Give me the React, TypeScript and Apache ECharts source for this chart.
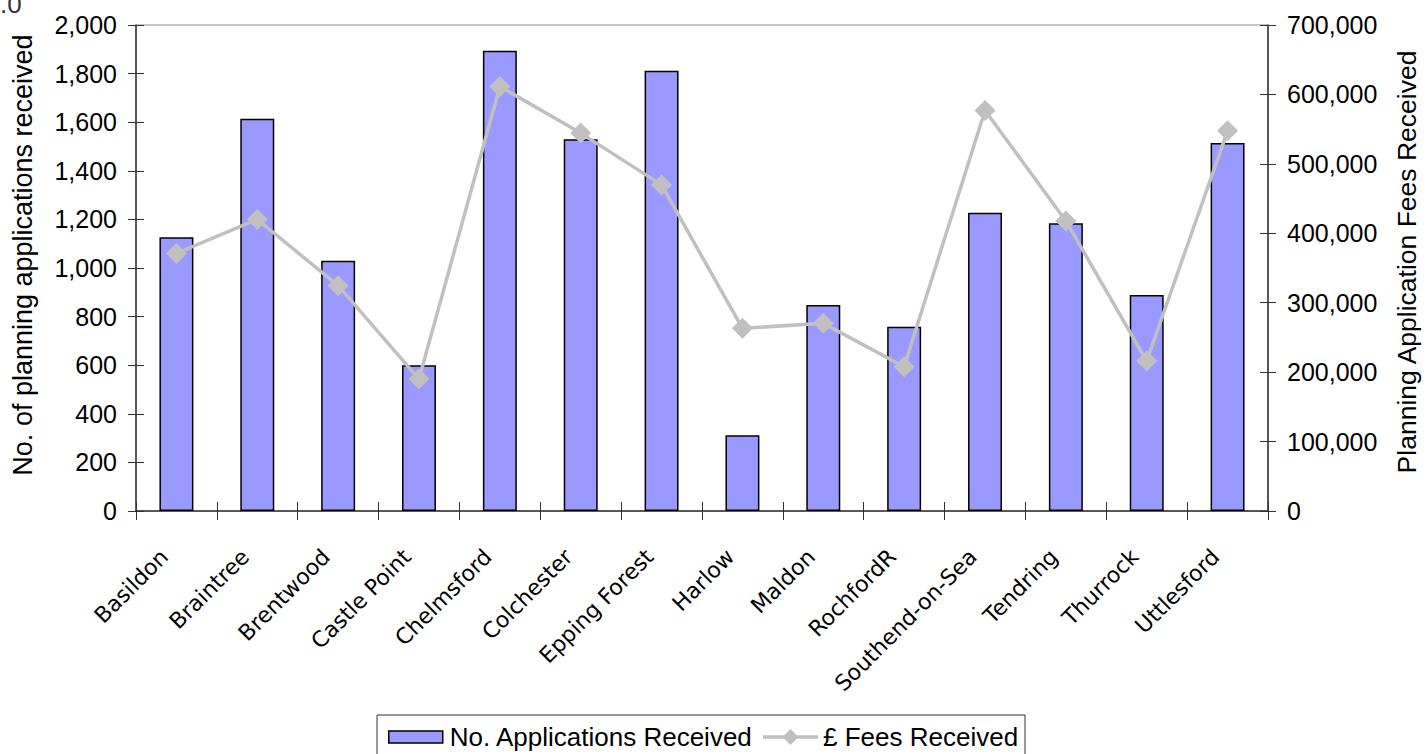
import React, { useEffect, useRef } from "react";
import * as echarts from "echarts";

const categories = [
  "Basildon",
  "Braintree",
  "Brentwood",
  "Castle Point",
  "Chelmsford",
  "Colchester",
  "Epping Forest",
  "Harlow",
  "Maldon",
  "RochfordR",
  "Southend-on-Sea",
  "Tendring",
  "Thurrock",
  "Uttlesford",
];

const applications = [1127, 1614, 1030, 600, 1894, 1530, 1812, 312, 848, 758, 1227, 1184, 889, 1514];

const fees = [371000, 420000, 324500, 190000, 611500, 544300, 469700, 263100, 270300, 207800, 576900, 417800, 216000, 547600];

const leftTicks = { min: 0, max: 2000, interval: 200 };
const rightTicks = { min: 0, max: 700000, interval: 100000 };

const FONT = '"Liberation Sans", Arial, sans-serif';
const AXIS_COLOR = "#333333";
const BAR_COLOR = "#9999ff";
const LINE_COLOR = "#c0c0c0";
const LINE_ICON =
  "path://M0,6.25 H21.25 L27.5,0 L33.75,6.25 H55 V9.75 H33.75 L27.5,16 L21.25,9.75 H0 Z";

const fmt = (v: number) => v.toLocaleString("en-GB");

export default function App() {
  const ref = useRef<HTMLDivElement>(null);

  useEffect(() => {
    if (!ref.current) return;
    const chart = echarts.init(ref.current, null, { renderer: "svg" });
    const tickLabel = { fontFamily: FONT, fontSize: 25, color: "#000" };
    const legendText = { fontFamily: FONT, fontSize: 26, color: "#000" };
    chart.setOption({
      animation: false,
      backgroundColor: "#ffffff",
      grid: {
        left: 136,
        right: 155,
        top: 25,
        bottom: 243,
        show: true,
        borderColor: "#8a8a8a",
        borderWidth: 1,
        backgroundColor: "transparent",
      },
      graphic: [
        {
          type: "text",
          x: 0,
          y: 4,
          style: {
            text: ".0",
            font: `26px ${FONT}`,
            fill: "#333333",
            align: "left",
            verticalAlign: "middle",
          },
        },
        {
          type: "rect",
          shape: { x: 377, y: 715, width: 648, height: 60 },
          style: { fill: "none", stroke: "#333333", lineWidth: 1 },
          silent: true,
        },
      ],
      legend: [
        {
          left: 388,
          top: 724,
          padding: 0,
          itemWidth: 54,
          itemHeight: 12,
          textStyle: { ...legendText, padding: [0, 0, 0, 2] },
          data: [
            {
              name: "No. Applications Received",
              icon: "rect",
              itemStyle: { color: BAR_COLOR, borderColor: "#000", borderWidth: 1.5 },
            },
          ],
        },
        {
          left: 763,
          top: 724,
          padding: 0,
          itemWidth: 55,
          itemHeight: 16,
          textStyle: legendText,
          data: [
            {
              name: "£ Fees Received",
              icon: LINE_ICON,
              itemStyle: { color: LINE_COLOR, borderWidth: 0 },
            },
          ],
        },
      ],
      xAxis: [
        {
          type: "category",
          data: categories,
          position: "bottom",
          boundaryGap: true,
          axisLine: { show: true, lineStyle: { color: AXIS_COLOR, width: 1.5 } },
          axisTick: { show: true, interval: 0, length: 9, lineStyle: { color: AXIS_COLOR, width: 1 } },
          axisLabel: {
            interval: 0,
            rotate: 45,
            margin: 30,
            padding: [0, 17, 0, 0],
            fontFamily: '"DejaVu Sans", Verdana, sans-serif',
            fontSize: 22,
            color: "#000",
          },
          splitLine: { show: false },
        },
        {
          type: "category",
          data: categories,
          position: "bottom",
          boundaryGap: true,
          axisLine: { show: false },
          axisTick: { show: true, inside: true, interval: 0, length: 9, lineStyle: { color: AXIS_COLOR, width: 1 } },
          axisLabel: { show: false },
          splitLine: { show: false },
        },
      ],
      yAxis: [
        {
          type: "value",
          position: "left",
          ...leftTicks,
          name: "No. of planning applications received",
          nameLocation: "middle",
          nameRotate: 90,
          nameGap: 100,
          nameTextStyle: { fontFamily: FONT, fontSize: 27, color: "#000", padding: [0, 0, 0, 26] },
          axisLine: { show: true, lineStyle: { color: AXIS_COLOR, width: 1.5 } },
          axisTick: { show: true, length: 8, lineStyle: { color: AXIS_COLOR } },
          axisLabel: { ...tickLabel, margin: 19, formatter: fmt },
          splitLine: { show: false },
        },
        {
          type: "value",
          position: "right",
          ...rightTicks,
          name: "Planning Application Fees Received",
          nameLocation: "middle",
          nameRotate: 90,
          nameGap: 125,
          nameTextStyle: { fontFamily: FONT, fontSize: 26.5, color: "#000", padding: [0, 0, 0, 12] },
          axisLine: { show: true, lineStyle: { color: AXIS_COLOR, width: 1.5 } },
          axisTick: { show: true, length: 8, lineStyle: { color: AXIS_COLOR } },
          axisLabel: { ...tickLabel, margin: 19, formatter: fmt },
          splitLine: { show: false },
        },
        {
          type: "value",
          position: "left",
          ...leftTicks,
          axisLine: { show: false },
          axisTick: { show: true, inside: true, length: 8, lineStyle: { color: AXIS_COLOR } },
          axisLabel: { show: false },
          splitLine: { show: false },
        },
        {
          type: "value",
          position: "right",
          ...rightTicks,
          axisLine: { show: false },
          axisTick: { show: true, inside: true, length: 8, lineStyle: { color: AXIS_COLOR } },
          axisLabel: { show: false },
          splitLine: { show: false },
        },
      ],
      series: [
        {
          name: "No. Applications Received",
          type: "bar",
          xAxisIndex: 0,
          yAxisIndex: 0,
          data: applications,
          barCategoryGap: "58%",
          itemStyle: { color: BAR_COLOR, borderColor: "#000", borderWidth: 1.5 },
        },
        {
          name: "£ Fees Received",
          type: "line",
          xAxisIndex: 0,
          yAxisIndex: 1,
          data: fees,
          symbol: "diamond",
          symbolSize: 21,
          lineStyle: { color: LINE_COLOR, width: 3.5 },
          itemStyle: { color: LINE_COLOR },
        },
      ],
    });
    return () => chart.dispose();
  }, []);

  return (
    <div
      ref={ref}
      style={{ position: "absolute", left: 0, top: 0, width: 1428, height: 754 }}
    />
  );
}
